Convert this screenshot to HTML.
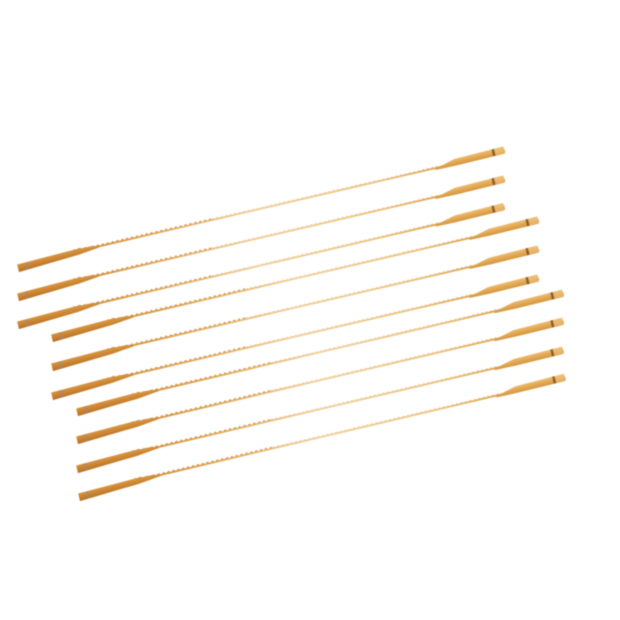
<!DOCTYPE html>
<html>
<head>
<meta charset="utf-8">
<style>
html,body{margin:0;padding:0;background:#ffffff;}
svg{display:block;}
</style>
</head>
<body>
<svg width="620" height="620" viewBox="0 0 620 620" xmlns="http://www.w3.org/2000/svg">
  <defs>
    <linearGradient id="wire" x1="0" y1="0" x2="500" y2="0" gradientUnits="userSpaceOnUse">
      <stop offset="0.12" stop-color="#cf8c38"/>
      <stop offset="0.3" stop-color="#e2ae68"/>
      <stop offset="0.5" stop-color="#f0d09e"/>
      <stop offset="0.75" stop-color="#eac282"/>
      <stop offset="0.88" stop-color="#dca250"/>
    </linearGradient>
    <linearGradient id="lbar" x1="0" y1="-4" x2="0" y2="4" gradientUnits="userSpaceOnUse">
      <stop offset="0" stop-color="#d89440"/>
      <stop offset="0.5" stop-color="#ca8330"/>
      <stop offset="1" stop-color="#b5712a"/>
    </linearGradient>
    <linearGradient id="rbar" x1="0" y1="-5.5" x2="0" y2="1.8" gradientUnits="userSpaceOnUse">
      <stop offset="0" stop-color="#edbd72"/>
      <stop offset="0.5" stop-color="#e3a853"/>
      <stop offset="1" stop-color="#d49440"/>
    </linearGradient>
    <filter id="soft" x="-5%" y="-50%" width="110%" height="200%">
      <feGaussianBlur stdDeviation="0.45"/>
    </filter>
    <g id="blade">
      <!-- wire -->
      <line x1="66" y1="-2.4" x2="442" y2="-0.4" stroke="url(#wire)" stroke-width="1.9"/>
      <!-- teeth -->
      <line x1="72" y1="-3.6" x2="200" y2="-2.8" stroke="#d69540" stroke-width="1.5" stroke-dasharray="2 3"/>
      <line x1="200" y1="-2.8" x2="435" y2="-1.5" stroke="url(#wire)" stroke-width="1.2" stroke-dasharray="1.6 3" opacity="0.8"/>
      <!-- left bar -->
      <path d="M0,-3.6 L58,-4.8 L64,-4.4 L70,-3.4 L84,-2.8 L84,-1.2 L62,1.2 L0,4.2 Z" fill="url(#lbar)"/>
      <path d="M58,-4.8 L61,-4 L64,-4.8 L67,-3.6 L70,-4.2 L73,-3.2 L76,-3.8 L79,-2.8 L82,-3.2" fill="none" stroke="#d39140" stroke-width="1.1"/>
      <rect x="8" y="-3.4" width="2.2" height="7" fill="#9a8a7a" opacity="0.65"/>
      <!-- right bar -->
      <path d="M428,0.4 L438,-2 L450,-5 L500,-5.8 L501,-0.8 L500,1.6 L450,1.8 L430,1.4 Z" fill="url(#rbar)"/>
      <rect x="488" y="-5.6" width="2.6" height="7" fill="#7a4a22" opacity="0.8"/>
      <rect x="491" y="-5.6" width="9" height="7" fill="#efc283" opacity="0.55"/>
    </g>
  </defs>
  <g filter="url(#soft)">
    <use href="#blade" transform="translate(18,268) rotate(-13.4)"/>
    <use href="#blade" transform="translate(18,297) rotate(-13.4)"/>
    <use href="#blade" transform="translate(18,325) rotate(-13.45)"/>
    <use href="#blade" transform="translate(52,338) rotate(-13.4)"/>
    <use href="#blade" transform="translate(52,367) rotate(-13.4)"/>
    <use href="#blade" transform="translate(52,396) rotate(-13.4)"/>
    <use href="#blade" transform="translate(77,412) rotate(-13.5)"/>
    <use href="#blade" transform="translate(77,440) rotate(-13.5)"/>
    <use href="#blade" transform="translate(77,469) rotate(-13.5)"/>
    <use href="#blade" transform="translate(79,497) rotate(-13.6)"/>
  </g>
</svg>
</body>
</html>
